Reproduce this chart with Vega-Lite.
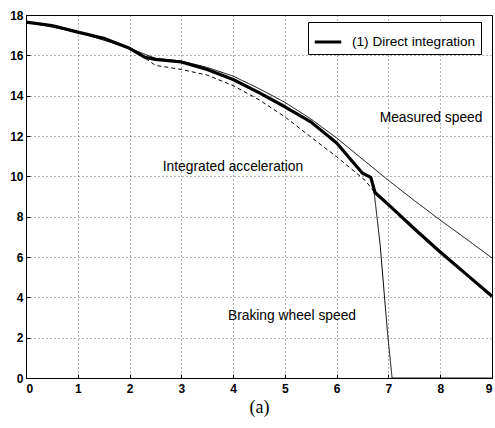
{
  "$schema": "https://vega.github.io/schema/vega-lite/v6.json",
  "width": 466,
  "height": 363,
  "autosize": "none",
  "padding": {"left": 26, "top": 15, "right": 3, "bottom": 50},
  "background": "white",
  "config": {
    "view": {"stroke": "black", "strokeWidth": 1},
    "font": "Liberation Sans",
    "axis": {
      "domainColor": "black",
      "tickColor": "black",
      "labelColor": "black",
      "labelFont": "Liberation Sans",
      "labelFontSize": 12,
      "labelFontWeight": "bold",
      "gridColor": "black",
      "gridDash": [1, 3],
      "gridOpacity": 0.6
    }
  },
  "datasets": {
    "lines": [
      {"series": "(1) Direct integration", "t": 0, "v": 17.65},
      {"series": "(1) Direct integration", "t": 0.5, "v": 17.48},
      {"series": "(1) Direct integration", "t": 1, "v": 17.15},
      {"series": "(1) Direct integration", "t": 1.5, "v": 16.85},
      {"series": "(1) Direct integration", "t": 2, "v": 16.35},
      {"series": "(1) Direct integration", "t": 2.3, "v": 15.9},
      {"series": "(1) Direct integration", "t": 2.5, "v": 15.8},
      {"series": "(1) Direct integration", "t": 3, "v": 15.67},
      {"series": "(1) Direct integration", "t": 3.5, "v": 15.3},
      {"series": "(1) Direct integration", "t": 4, "v": 14.8},
      {"series": "(1) Direct integration", "t": 4.5, "v": 14.15},
      {"series": "(1) Direct integration", "t": 5, "v": 13.45},
      {"series": "(1) Direct integration", "t": 5.5, "v": 12.7},
      {"series": "(1) Direct integration", "t": 6, "v": 11.65},
      {"series": "(1) Direct integration", "t": 6.3, "v": 10.75},
      {"series": "(1) Direct integration", "t": 6.5, "v": 10.15},
      {"series": "(1) Direct integration", "t": 6.66, "v": 9.95},
      {"series": "(1) Direct integration", "t": 6.74, "v": 9.2},
      {"series": "(1) Direct integration", "t": 7, "v": 8.6},
      {"series": "(1) Direct integration", "t": 7.5, "v": 7.4},
      {"series": "(1) Direct integration", "t": 8, "v": 6.25},
      {"series": "(1) Direct integration", "t": 8.5, "v": 5.15},
      {"series": "(1) Direct integration", "t": 9, "v": 4.05},
      {"series": "Measured speed", "t": 0, "v": 17.65},
      {"series": "Measured speed", "t": 1, "v": 17.15},
      {"series": "Measured speed", "t": 2, "v": 16.35},
      {"series": "Measured speed", "t": 2.5, "v": 15.85},
      {"series": "Measured speed", "t": 3, "v": 15.72},
      {"series": "Measured speed", "t": 3.5, "v": 15.4},
      {"series": "Measured speed", "t": 4, "v": 14.97},
      {"series": "Measured speed", "t": 4.5, "v": 14.35},
      {"series": "Measured speed", "t": 5, "v": 13.67},
      {"series": "Measured speed", "t": 5.5, "v": 12.85},
      {"series": "Measured speed", "t": 6, "v": 11.9},
      {"series": "Measured speed", "t": 6.5, "v": 10.85},
      {"series": "Measured speed", "t": 7, "v": 9.8},
      {"series": "Measured speed", "t": 7.5, "v": 8.8},
      {"series": "Measured speed", "t": 8, "v": 7.83},
      {"series": "Measured speed", "t": 8.5, "v": 6.9},
      {"series": "Measured speed", "t": 9, "v": 5.95},
      {"series": "Integrated acceleration", "t": 2.2, "v": 16.05},
      {"series": "Integrated acceleration", "t": 2.5, "v": 15.5},
      {"series": "Integrated acceleration", "t": 3, "v": 15.3},
      {"series": "Integrated acceleration", "t": 3.5, "v": 15.02},
      {"series": "Integrated acceleration", "t": 4, "v": 14.5},
      {"series": "Integrated acceleration", "t": 4.5, "v": 13.8},
      {"series": "Integrated acceleration", "t": 5, "v": 12.95},
      {"series": "Integrated acceleration", "t": 5.5, "v": 11.95},
      {"series": "Integrated acceleration", "t": 6, "v": 10.97},
      {"series": "Integrated acceleration", "t": 6.55, "v": 9.8},
      {"series": "Integrated acceleration", "t": 6.72, "v": 9.25},
      {"series": "Braking wheel speed", "t": 6.72, "v": 9.3},
      {"series": "Braking wheel speed", "t": 6.84, "v": 6.6},
      {"series": "Braking wheel speed", "t": 6.98, "v": 2.3},
      {"series": "Braking wheel speed", "t": 7.07, "v": 0},
      {"series": "Braking wheel speed", "t": 9, "v": 0}
    ],
    "labels": [
      {"text": "Measured speed", "t": 6.83, "v": 12.9},
      {"text": "Integrated acceleration", "t": 2.64, "v": 10.46},
      {"text": "Braking wheel speed", "t": 3.9, "v": 3.07}
    ]
  },
  "layer": [
    {
      "data": {"name": "lines"},
      "transform": [{"filter": "datum.series === '(1) Direct integration'"}],
      "mark": {"type": "line", "strokeWidth": 3.2, "strokeJoin": "round"},
      "encoding": {
        "x": {
          "field": "t", "type": "quantitative",
          "scale": {"domain": [0, 9], "nice": false, "zero": false},
          "axis": {
            "orient": "bottom", "values": [0, 1, 2, 3, 4, 5, 6, 7, 8, 9],
            "tickSize": -4, "labelPadding": 9, "grid": true,
            "title": "(a)", "titleFont": "Liberation Serif", "titleFontSize": 18,
            "titleFontWeight": "normal", "titleColor": "black", "titlePadding": 4
          }
        },
        "y": {
          "field": "v", "type": "quantitative",
          "scale": {"domain": [0, 18], "nice": false},
          "axis": {
            "orient": "left", "values": [0, 2, 4, 6, 8, 10, 12, 14, 16, 18],
            "tickSize": -4, "labelPadding": 7, "grid": true, "title": null
          }
        },
        "stroke": {
          "field": "series", "type": "nominal",
          "scale": {"range": ["black"]},
          "legend": {
            "orient": "none", "legendX": 282, "legendY": 7, "title": null,
            "strokeColor": "black", "fillColor": "white", "padding": 5,
            "symbolType": "stroke", "symbolSize": 700, "symbolStrokeWidth": 3,
            "symbolStrokeColor": "black",
            "labelFont": "Liberation Sans", "labelFontSize": 13.6, "labelOffset": 9,
            "labelColor": "black"
          }
        }
      }
    },
    {
      "data": {"name": "lines"},
      "transform": [{"filter": "datum.series !== '(1) Direct integration'"}],
      "mark": {"type": "line", "strokeWidth": 1, "color": "black"},
      "encoding": {
        "x": {"field": "t", "type": "quantitative"},
        "y": {"field": "v", "type": "quantitative"},
        "detail": {"field": "series", "type": "nominal"},
        "strokeDash": {
          "field": "series", "type": "nominal",
          "scale": {"domain": ["Measured speed", "Integrated acceleration", "Braking wheel speed"], "range": [[1, 0], [4, 3], [1, 0]]},
          "legend": null
        }
      }
    },
    {
      "data": {"name": "labels"},
      "mark": {"type": "text", "align": "left", "baseline": "middle", "font": "Liberation Sans", "fontSize": 13.8, "color": "black"},
      "encoding": {
        "x": {"field": "t", "type": "quantitative"},
        "y": {"field": "v", "type": "quantitative"},
        "text": {"field": "text"}
      }
    }
  ]
}
